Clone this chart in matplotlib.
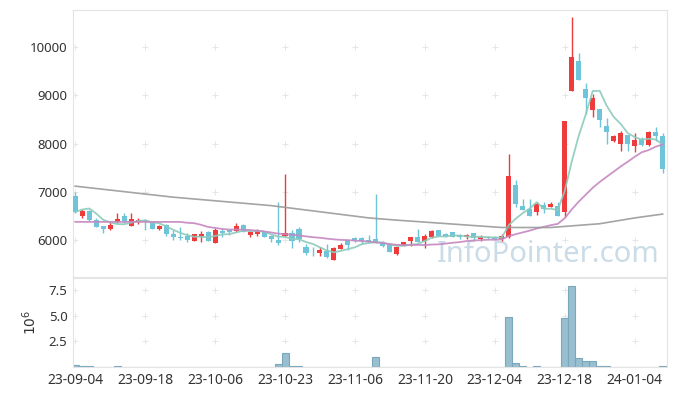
import numpy as np
import pandas as pd
import matplotlib
matplotlib.use("Agg")
import matplotlib.pyplot as plt

plt.rcParams["font.family"] = ["Noto Sans", "DejaVu Sans"]

# Daily OHLC (KRW), 2023-09-04 .. 2024-01-10, 85 trading days
opens = [6917, 6503, 6600, 6414, 6290, 6228, 6373, 6497, 6297, 6373,
         6414, 6359, 6234, 6324, 6118, 6072, 6090, 5986, 6069, 6166,
         5931, 6193, 6207, 6193, 6317, 6110, 6124, 6166, 6083, 6000,
         6090, 6138, 6228, 5849, 5730, 5724, 5772, 5586, 5821, 6000,
         6035, 6035, 6000, 6014, 5945, 5917, 5710, 5903, 5986, 6055,
         5986, 6055, 6207, 6124, 6159, 6103, 6055, 6138, 6021, 6055,
         6069, 6014, 6069, 7138, 6703, 6642, 6586, 6724, 6690, 6703,
         6586, 9091, 9705, 9126, 8691, 8712, 8360, 8049, 7994, 8174,
         7946, 8084, 7966, 8236, 8153]
highs = [6987, 6636, 6620, 6449, 6300, 6380, 6553, 6566, 6566, 6449,
         6430, 6370, 6320, 6330, 6207, 6276, 6140, 6124, 6180, 6180,
         6242, 6255, 6220, 6345, 6330, 6180, 6235, 6170, 6100, 6780,
         7366, 6200, 6276, 5917, 5862, 5850, 5917, 5860, 5950, 6000,
         6070, 6070, 6100, 6952, 5980, 5930, 5862, 5966, 6055, 6241,
         6124, 6200, 6207, 6140, 6160, 6120, 6130, 6150, 6100, 6090,
         6080, 6124, 7774, 7242, 6842, 6850, 6790, 6790, 6790, 6790,
         8463, 10622, 9877, 9256, 9036, 8720, 8532, 8180, 8260, 8174,
         8209, 8130, 8270, 8333, 8209]
lows = [6553, 6462, 6400, 6275, 6151, 6207, 6345, 6345, 6297, 6332,
        6207, 6234, 6220, 6083, 6000, 6000, 5965, 5986, 5970, 5986,
        5931, 6069, 6110, 6170, 6172, 6069, 6080, 6069, 5965, 5897,
        6070, 5828, 5965, 5690, 5669, 5680, 5640, 5586, 5821, 5793,
        5960, 5930, 5940, 5940, 5850, 5758, 5700, 5880, 5880, 5966,
        5828, 6040, 6090, 6060, 6069, 6030, 6030, 6000, 5980, 6020,
        6021, 5980, 6035, 6690, 6621, 6497, 6530, 6560, 6680, 6497,
        6483, 9091, 9312, 8608, 8540, 8333, 8001, 8030, 7849, 7850,
        7828, 7950, 7940, 8049, 7393]
closes = [6586, 6600, 6414, 6275, 6234, 6310, 6435, 6393, 6435, 6414,
          6373, 6234, 6296, 6118, 6060, 6050, 6000, 6124, 6124, 5986,
          6207, 6151, 6159, 6290, 6172, 6166, 6180, 6069, 6021, 5931,
          6138, 5986, 6014, 5738, 5724, 5793, 5655, 5828, 5897, 5897,
          5986, 5986, 5952, 5952, 5883, 5758, 5862, 5966, 6055, 5966,
          6083, 6186, 6090, 6069, 6069, 6055, 6103, 6035, 6069, 6048,
          6021, 6090, 7325, 6745, 6621, 6497, 6745, 6642, 6745, 6497,
          8463, 9789, 9312, 8939, 8939, 8484, 8236, 8159, 8215, 7994,
          8070, 7966, 8242, 8153, 7476]
# volume, millions of shares
volumes = [0.20, 0.10, 0.10, 0.02, 0.02, 0.02, 0.10, 0.02, 0.02, 0.02,
           0.02, 0.02, 0.02, 0.02, 0.02, 0.02, 0.02, 0.02, 0.02, 0.02,
           0.02, 0.02, 0.02, 0.02, 0.02, 0.02, 0.02, 0.02, 0.02, 0.35,
           1.36, 0.10, 0.10, 0.02, 0.02, 0.02, 0.02, 0.02, 0.02, 0.02,
           0.02, 0.02, 0.02, 0.94, 0.02, 0.02, 0.02, 0.02, 0.02, 0.02,
           0.02, 0.02, 0.02, 0.02, 0.02, 0.02, 0.02, 0.02, 0.02, 0.02,
           0.02, 0.02, 4.93, 0.36, 0.15, 0.05, 0.15, 0.05, 0.05, 0.05,
           4.83, 7.90, 0.84, 0.58, 0.58, 0.15, 0.15, 0.05, 0.05, 0.05,
           0.05, 0.05, 0.05, 0.05, 0.15]
# closes before the window (read back from where the MA5/MA20 lines start)
closes_prior = [6610, 6420, 6280, 6240, 6300, 6440, 6390, 6430, 6420, 6370,
                6240, 6300, 6120, 6060, 6050, 6350, 6300, 6800, 6880]
# long moving average (grey)
ma_long_idx = [0, 14, 28, 42, 46, 61, 68, 75, 80, 84]
ma_long_val = [7118, 6890, 6715, 6460, 6414, 6262, 6262, 6340, 6460, 6540]

tick_idx = [0, 10, 20, 30, 40, 50, 60, 70, 80]
tick_labels = ["23-09-04", "23-09-18", "23-10-06", "23-10-23", "23-11-06",
               "23-11-20", "23-12-04", "23-12-18", "24-01-04"]

UP, DOWN = "#ee3b3b", "#6ec4d9"
SPINE = "#e4e4e4"

o = np.array(opens); h = np.array(highs); l = np.array(lows); c = np.array(closes)
x = np.arange(len(c))
col = np.where(c >= o, UP, DOWN)

allc = pd.Series(closes_prior + closes)
n0 = len(closes_prior)
ma5 = allc.rolling(5).mean().values[n0:]
ma20 = allc.rolling(20).mean().values[n0:]

fig = plt.figure(figsize=(6.77, 3.96), dpi=100)
ax = fig.add_axes([0.108, 0.300, 0.877, 0.675])
axv = fig.add_axes([0.108, 0.073, 0.877, 0.225], sharex=ax)

# candles
ax.vlines(x, l, h, colors=col, lw=1.0, zorder=2)
body = np.maximum(np.abs(c - o), 14)
ax.bar(x, body, bottom=np.minimum(o, c), width=0.72, color=col, zorder=3)

ax.plot(x, ma5, color="#8ccbbc", lw=1.3, alpha=0.9, zorder=4)
ax.plot(x, ma20, color="#c688c0", lw=1.3, alpha=0.9, zorder=4)
ax.plot(ma_long_idx, ma_long_val, color="#9a9a9a", lw=1.2, alpha=0.9, zorder=4)

ax.text(0.988, 0.03, "InfoPointer.com", transform=ax.transAxes,
        ha="right", va="bottom", fontsize=21, color="#cadce7", zorder=1)

ax.set_xlim(-0.3, 84.6)
ax.set_ylim(5233, 10767)
yt = [6000, 7000, 8000, 9000, 10000]
ax.set_yticks(yt)
ax.set_yticklabels([str(v) for v in yt])

# volume
axv.bar(x, volumes, width=1.0, color="#97bfcf", edgecolor="#7aa7bb", lw=0.8)
axv.set_ylim(0, 8.7)
vt = [2.5, 5.0, 7.5]
axv.set_yticks(vt)
axv.set_yticklabels([f"{v:.1f}" for v in vt])
axv.set_ylabel(r"$10^6$", fontsize=10, color="#333333", labelpad=6)
axv.set_xticks(tick_idx)
axv.set_xticklabels(tick_labels)
plt.setp(ax.get_xticklabels(), visible=False)

# faint "+" marks at grid crossings
gx, gy = np.meshgrid(tick_idx, yt)
ax.scatter(gx.ravel(), gy.ravel(), marker="+", s=14, color="#e6e6e6", lw=0.7, zorder=0)
gx, gy = np.meshgrid(tick_idx, vt)
axv.scatter(gx.ravel(), gy.ravel(), marker="+", s=14, color="#e6e6e6", lw=0.7, zorder=0)

for a in (ax, axv):
    for s in a.spines.values():
        s.set_color(SPINE)
    a.tick_params(length=0, labelsize=9.5, labelcolor="#333333", pad=4)
axv.tick_params(axis="x", labelsize=10)

fig.savefig("out.png", dpi=100)
